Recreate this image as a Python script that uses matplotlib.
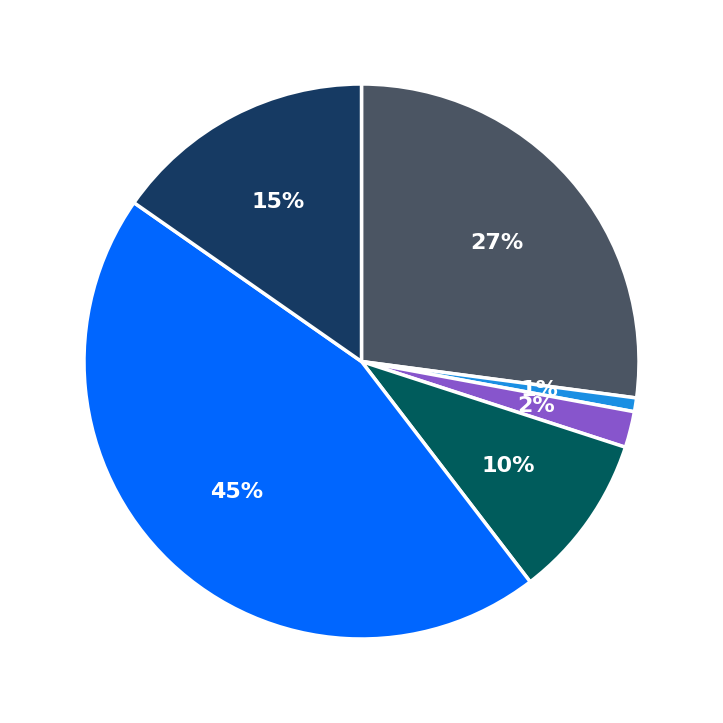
import matplotlib
matplotlib.use("Agg")
import matplotlib.pyplot as plt

# slice shares (percent), clockwise from the top
values = [27.1, 0.8, 2.1, 9.6, 45.1, 15.3]
colors = ["#4b5563", "#1a8fe3", "#8755cc", "#005c5c", "#0066ff", "#163a63"]

fig = plt.figure(figsize=(7.23, 7.23), dpi=100)
ax = fig.add_axes([0, 0, 1, 1])

wedges, texts, autotexts = ax.pie(
    values,
    colors=colors,
    startangle=90,
    counterclock=False,
    autopct="%1.0f%%",
    pctdistance=0.65,
    wedgeprops=dict(edgecolor="white", linewidth=2.5),
    textprops=dict(color="white", fontsize=16, fontweight="bold"),
)

lim = 361.5 / 277.5
ax.set_xlim(-lim, lim)
ax.set_ylim(-lim, lim)
ax.set_aspect("equal")
ax.axis("off")

fig.savefig("out.png", dpi=100)
